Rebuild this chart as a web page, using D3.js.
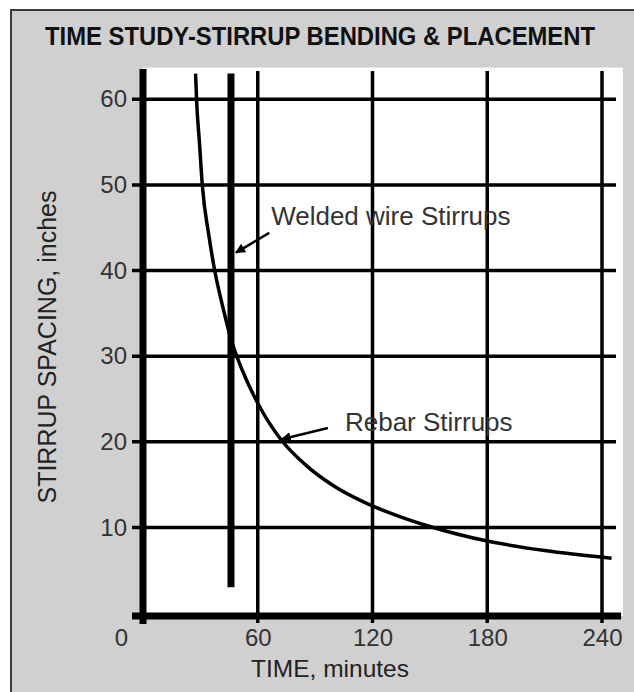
<!DOCTYPE html>
<html>
<head>
<meta charset="utf-8">
<script src="https://cdn.jsdelivr.net/npm/d3@7"></script>
<style>
  html, body { margin: 0; padding: 0; background: #ffffff; }
  svg { display: block; }
</style>
</head>
<body>
<div id="chart"></div>
<script>
// ---- data ----
const title = "TIME STUDY-STIRRUP BENDING & PLACEMENT";
const xLabel = "TIME, minutes";
const yLabel = "STIRRUP SPACING, inches";
const xTicks = [0, 60, 120, 180, 240];
const yTicks = [10, 20, 30, 40, 50, 60];
// Rebar stirrups curve (time in minutes, spacing in inches)
const rebarTime    = [27.5, 28, 29.5, 31, 34.5, 37.5, 42, 46, 52, 60, 72, 85, 100, 115, 135, 150, 180, 210, 245];
const rebarSpacing = [63, 60, 55, 50, 44, 40, 35.5, 32, 28.3, 24.5, 20.3, 17.3, 14.8, 13, 11.2, 10.1, 8.4, 7.3, 6.4];
// Welded wire stirrups: vertical line at constant time
const weldedTime = [46, 46];
const weldedSpacing = [3, 63];
// annotations
const annotations = [
  { text: "Welded wire Stirrups", tx: 67, ts: 45.3, from: [66, 44.4], to: [48.6, 42.1] },
  { text: "Rebar Stirrups", tx: 105.6, ts: 21.3, from: [96.7, 21.6], to: [72.5, 20.3] }
];

// ---- layout ----
const W = 634, H = 692;
const font = "'Liberation Sans', Arial, Helvetica, sans-serif";
const svg = d3.select("#chart").append("svg").attr("width", W).attr("height", H);

const x = d3.scaleLinear().domain([0, 240]).range([143, 602]);
const y = d3.scaleLinear().domain([0, 60]).range([613, 99.3]);

// frame
svg.append("rect").attr("x", 11).attr("y", 10).attr("width", 640).attr("height", 700)
  .attr("fill", "#d0d0d0").attr("stroke", "#3a3a3a").attr("stroke-width", 2);

// title
svg.append("text").attr("x", 45).attr("y", 45)
  .attr("font-family", font).attr("font-weight", "bold").attr("font-size", 25)
  .attr("fill", "#111").attr("textLength", 550).attr("lengthAdjust", "spacingAndGlyphs")
  .text(title);

// white plot area
svg.append("rect").attr("x", x(0)).attr("y", y(63.7))
  .attr("width", x(251) - x(0)).attr("height", y(0) + 3 - y(63.7)).attr("fill", "#ffffff");

// horizontal gridlines
svg.append("g").selectAll("line").data(yTicks).join("line")
  .attr("x1", x(0) - 11).attr("x2", x(0) + 473)
  .attr("y1", d => y(d)).attr("y2", d => y(d))
  .attr("stroke", "#000").attr("stroke-width", 3.5);

// vertical gridlines
svg.append("g").selectAll("line").data(xTicks.filter(d => d > 0)).join("line")
  .attr("x1", d => x(d)).attr("x2", d => x(d))
  .attr("y1", y(0) - 542).attr("y2", y(0) + 10)
  .attr("stroke", "#000").attr("stroke-width", 3.5);

// axes (thick)
svg.append("line").attr("x1", x(0)).attr("x2", x(0)).attr("y1", y(0) - 544).attr("y2", y(0) + 11)
  .attr("stroke", "#000").attr("stroke-width", 7);
svg.append("line").attr("x1", x(0) - 11).attr("x2", x(250)).attr("y1", y(0) + 3).attr("y2", y(0) + 3)
  .attr("stroke", "#000").attr("stroke-width", 7);

// welded wire line
svg.append("line")
  .attr("x1", x(weldedTime[0])).attr("x2", x(weldedTime[1]))
  .attr("y1", y(weldedSpacing[0])).attr("y2", y(weldedSpacing[1]))
  .attr("stroke", "#000").attr("stroke-width", 7);

// rebar curve
const pts = rebarTime.map((t, i) => [t, rebarSpacing[i]]);
svg.append("path").datum(pts)
  .attr("d", d3.line().x(d => x(d[0])).y(d => y(d[1])).curve(d3.curveMonotoneX))
  .attr("fill", "none").attr("stroke", "#000").attr("stroke-width", 3.5);

// axis tick labels
const yAxis = svg.append("g").attr("transform", `translate(${x(0)},0)`)
  .call(d3.axisLeft(y).tickValues(yTicks).tickSize(0).tickPadding(16));
yAxis.select(".domain").remove();
yAxis.selectAll("text").attr("font-family", font).attr("font-size", 24).attr("fill", "#333");

const xAxis = svg.append("g").attr("transform", `translate(0,${y(0)})`)
  .call(d3.axisBottom(x).tickValues(xTicks).tickSize(0).tickPadding(16));
xAxis.select(".domain").remove();
xAxis.selectAll("text").attr("font-family", font).attr("font-size", 24).attr("fill", "#333")
  .attr("dx", d => d === 0 ? -22 : 0);

// axis titles
svg.append("text").attr("x", 330).attr("y", 677).attr("text-anchor", "middle")
  .attr("font-family", font).attr("font-size", 24.5).attr("fill", "#222").text(xLabel);
svg.append("text").attr("transform", "translate(56,347) rotate(-90)").attr("text-anchor", "middle")
  .attr("font-family", font).attr("font-size", 25).attr("fill", "#222").text(yLabel);

// arrows marker
svg.append("defs").append("marker").attr("id", "arr")
  .attr("viewBox", "0 0 10 10").attr("refX", 9).attr("refY", 5)
  .attr("markerWidth", 4).attr("markerHeight", 4).attr("orient", "auto")
  .attr("markerUnits", "strokeWidth")
  .append("path").attr("d", "M0,0 L10,5 L0,10 z").attr("fill", "#000");

const ann = svg.append("g");
annotations.forEach(a => {
  ann.append("line")
    .attr("x1", x(a.from[0])).attr("y1", y(a.from[1]))
    .attr("x2", x(a.to[0])).attr("y2", y(a.to[1]))
    .attr("stroke", "#000").attr("stroke-width", 2.5).attr("marker-end", "url(#arr)");
  ann.append("text").attr("x", x(a.tx)).attr("y", y(a.ts))
    .attr("font-family", font).attr("font-size", 26).attr("fill", "#333").text(a.text);
});
</script>
</body>
</html>
